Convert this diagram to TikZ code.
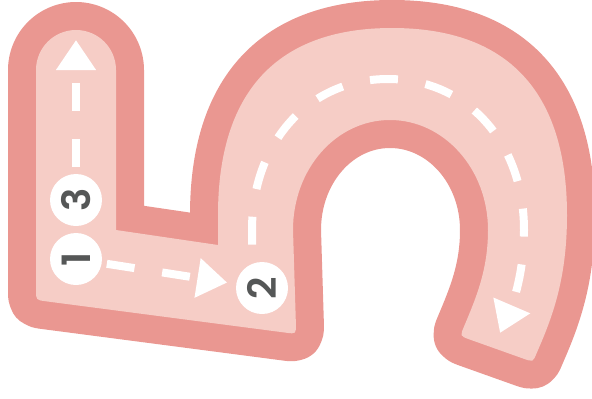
\documentclass[tikz,border=0pt]{standalone}
\usepackage{fontspec}
\usepackage{graphicx}
\newfontfamily\numfont{Poppins}[BoldFont={Poppins SemiBold}]
\usetikzlibrary{arrows.meta}
\definecolor{roaddark}{RGB}{234,151,145}
\definecolor{roadlight}{RGB}{246,205,198}
\definecolor{numgray}{RGB}{85,87,87}
\begin{document}
\begin{tikzpicture}[x=1pt,y=-1pt,
  stopnode/.style={circle, fill=white, minimum size=52pt, inner sep=0pt, text=numgray,
    font=\numfont\bfseries\fontsize{39}{39}\selectfont},
  laneline/.style={draw=white, line width=8pt, dash pattern=on 28pt off 28pt},
  arrowend/.style={-{Triangle[length=30pt,width=38pt]}}]
\useasboundingbox (0,0) rectangle (592,399);
% road
\path[fill=roadlight, preaction={draw=roaddark, line width=56pt, line join=round}]
  (116,230) -- (218,245) -- (218,215)
  .. controls (218,92) and (277,28) .. (392,28)
  .. controls (508,28) and (567,92) .. (567,215)
  .. controls (567,280) and (552,318) .. (536.5,353.5)
  .. controls (533,362) .. (523.6,358.7)
  -- (469.4,339.4)
  .. controls (460,336) .. (463.9,326.8)
  .. controls (476,298) and (488,270) .. (488,230)
  .. controls (488,169) and (444,120) .. (390,120)
  .. controls (336,120) and (293,169) .. (293,230)
  -- (295.9,324)
  .. controls (296,334) .. (286.1,332.7)
  -- (45.9,301.3)
  .. controls (36,300) .. (36,290)
  -- (36,70)
  .. controls (36,47.9) and (53.9,30) .. (76,30)
  .. controls (98.1,30) and (116,47.9) .. (116,70)
  -- cycle;
% stops
\node[stopnode] (n1) at (76,259) {\rotatebox{90}{1}};
\node[stopnode] (n2) at (262,288) {\rotatebox{90}{2}};
\node[stopnode] (n3) at (76,200) {\rotatebox{90}{3}};
\coordinate (t3) at (76,40);
\coordinate (t2) at (500,333);
% lanes
\draw[laneline, arrowend, shorten <=5pt, shorten >=9pt] (n1) -- (n2);
\draw[laneline, arrowend, shorten <=7pt] (n3) -- (t3);
\draw[laneline, arrowend, dash phase=37pt] (n2.112) -- (252,230)
  .. controls (252,142.4) and (309,79) .. (388,79)
  .. controls (467,79) and (524,142.4) .. (524,230)
  .. controls (524,275) and (512,305) .. (t2);
\end{tikzpicture}
\end{document}
